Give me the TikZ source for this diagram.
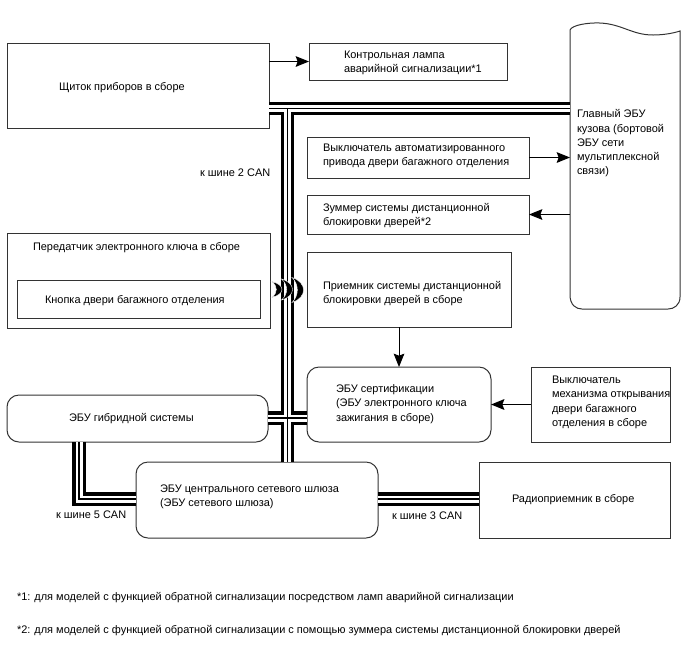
\documentclass[tikz,border=0pt]{standalone}
\usepackage{fontspec}
\setmainfont{Liberation Sans}
\usetikzlibrary{arrows.meta}
\definecolor{ink}{gray}{0.2}
\tikzset{
  boxn/.style={draw=ink,line width=0.75pt,inner sep=0pt,outer sep=0pt,anchor=north west},
  roundbox/.style={rounded corners=9pt},
  lbl/.style={anchor=west,align=left,inner sep=0pt,outer sep=0pt,text=black,yshift=-1.1pt,font=\fontsize{8.22pt}{10.7pt}\selectfont},
  flow/.style={draw=black,line width=0.75pt,-{Stealth[length=10pt,width=8pt,inset=1.5pt]}},
  crescent/.style={fill=black,draw=white,line width=0.3pt},
}
\newcommand{\bx}[6][]{\node[boxn,#1,minimum width=(#5-#3)*0.75pt,minimum height=(#6-#4)*0.75pt] (#2) at (#3,#4) {};}
\newcommand{\cres}[4]{\path[crescent] (#1,#2-#3) .. controls (#1+1.4*#4,#2-0.6*#3) and (#1+1.4*#4,#2+0.6*#3) .. (#1,#2+#3) .. controls (#1+0.65*#4,#2+0.45*#3) and (#1+0.65*#4,#2-0.45*#3) .. cycle;}
\begin{document}
\begin{tikzpicture}[x=0.75pt,y=-0.75pt]
\useasboundingbox (0,0) rectangle (688,658);
% boxes
\bx{panel}{7}{43}{269}{128}
\bx{lamp}{309}{43}{507}{80}
\bx{doorsw}{307}{137}{529}{178}
\bx{buzzer}{307}{195}{529}{234}
\bx{trans}{7}{233}{270}{328}
\bx{btn}{17}{280}{260}{318}
\bx{recv}{307}{252}{511}{327}
\bx[roundbox]{cert}{307}{367}{491}{442}
\bx{opener}{531}{367}{670}{442}
\bx[roundbox]{hybrid}{7}{395}{268}{442}
\bx[roundbox]{gate}{136}{462}{378}{538}
\bx{radio}{479}{462}{670}{538}
% main ECU outline
\node[inner sep=0pt,outer sep=0pt,anchor=north west,minimum width=110*0.75pt,minimum height=286*0.75pt] (main) at (570,23) {};
\draw[draw=ink,line width=0.75pt] (570,30) .. controls (572,25) and (588,22.5) .. (600,23) .. controls (622,24) and (632,35) .. (653,35) .. controls (664,35) and (674,33) .. (680,31) -- (680,297) .. controls (680,305) and (674,309) .. (668,309) -- (582,309) .. controls (576,309) and (570,305) .. (570,295) -- cycle;
% bus junctions
\coordinate (busL) at (panel.east |- 0,108.5);
\coordinate (busR) at (main.west |- 0,108.5);
\coordinate (busT) at (287.5,108.5);
\coordinate (busB) at (gate.north -| busT);
\coordinate (busHL) at (hybrid.east |- 0,418);
\coordinate (busHR) at (cert.west |- 0,418);
\coordinate (busA) at (79,442);
\coordinate (busC) at (79,499);
\coordinate (busD) at (gate.west |- busC);
\coordinate (busE) at (gate.east |- busC);
\coordinate (busF) at (radio.west |- busC);
\foreach \w/\c in {10pt/black,5.25pt/white,0.8pt/black}{
  \draw[line width=\w,draw=\c] (busL) -- (busR);
  \draw[line width=\w,draw=\c] (busT) -- (busB);
  \draw[line width=\w,draw=\c] (busHL) -- (busHR);
  \draw[line width=\w,draw=\c] (busA) -- (busC) -- (busD);
  \draw[line width=\w,draw=\c] (busE) -- (busF);
}
% wireless crescents
\cres{271.5}{289.5}{8}{10}
\cres{281.5}{289.5}{10.5}{10.5}
\cres{292}{290}{12.5}{11}
% arrows
\draw[flow] (panel.east |- lamp.west) -- (lamp.west);
\draw[flow] (doorsw.east) -- (main.west |- doorsw.east);
\draw[flow] (main.west |- buzzer.east) -- (buzzer.east);
\draw[flow] (recv.south -| 399,0) -- (cert.north -| 399,0);
\draw[flow,line width=1.2pt] (opener.west) -- (cert.east);
% labels
\node[lbl] (t1) at (344,61.5) {Контрольная лампа\\аварийной сигнализации*1};
\node[lbl] (t2) at (59,86) {Щиток приборов в сборе};
\node[lbl] (t3) at (200,171) {к шине 2 CAN};
\node[lbl] (t4) at (577,142) {Главный ЭБУ\\кузова (бортовой\\ЭБУ сети\\мультиплексной\\связи)};
\node[lbl] (t5) at (323,154.5) {Выключатель автоматизированного\\привода двери багажного отделения};
\node[lbl] (t6) at (323,214) {Зуммер системы дистанционной\\блокировки дверей*2};
\node[lbl] (t7) at (33,246) {Передатчик электронного ключа в сборе};
\node[lbl] (t8) at (45,299) {Кнопка двери багажного отделения};
\node[lbl] (t9) at (323,298) {Приемник системы дистанционной\\блокировки дверей в сборе\\~};
\node[lbl] (t10) at (336,402.5) {ЭБУ сертификации\\(ЭБУ электронного ключа\\зажигания в сборе)};
\node[lbl] (t11) at (552,401) {Выключатель\\механизма открывания\\двери багажного\\отделения в сборе};
\node[lbl] (t12) at (69,417) {ЭБУ гибридной системы};
\node[lbl] (t13) at (160,495.5) {ЭБУ центрального сетевого шлюза\\(ЭБУ сетевого шлюза)};
\node[lbl] (t14) at (512,498) {Радиоприемник в сборе};
\node[lbl] (t15) at (56,513) {к шине 5 CAN};
\node[lbl] (t16) at (392,514) {к шине 3 CAN};
\node[lbl] (t17) at (17,596) {*1: для моделей с функцией обратной сигнализации посредством ламп аварийной сигнализации};
\node[lbl] (t18) at (17,629) {*2: для моделей с функцией обратной сигнализации с помощью зуммера системы дистанционной блокировки дверей};
\end{tikzpicture}
\end{document}
